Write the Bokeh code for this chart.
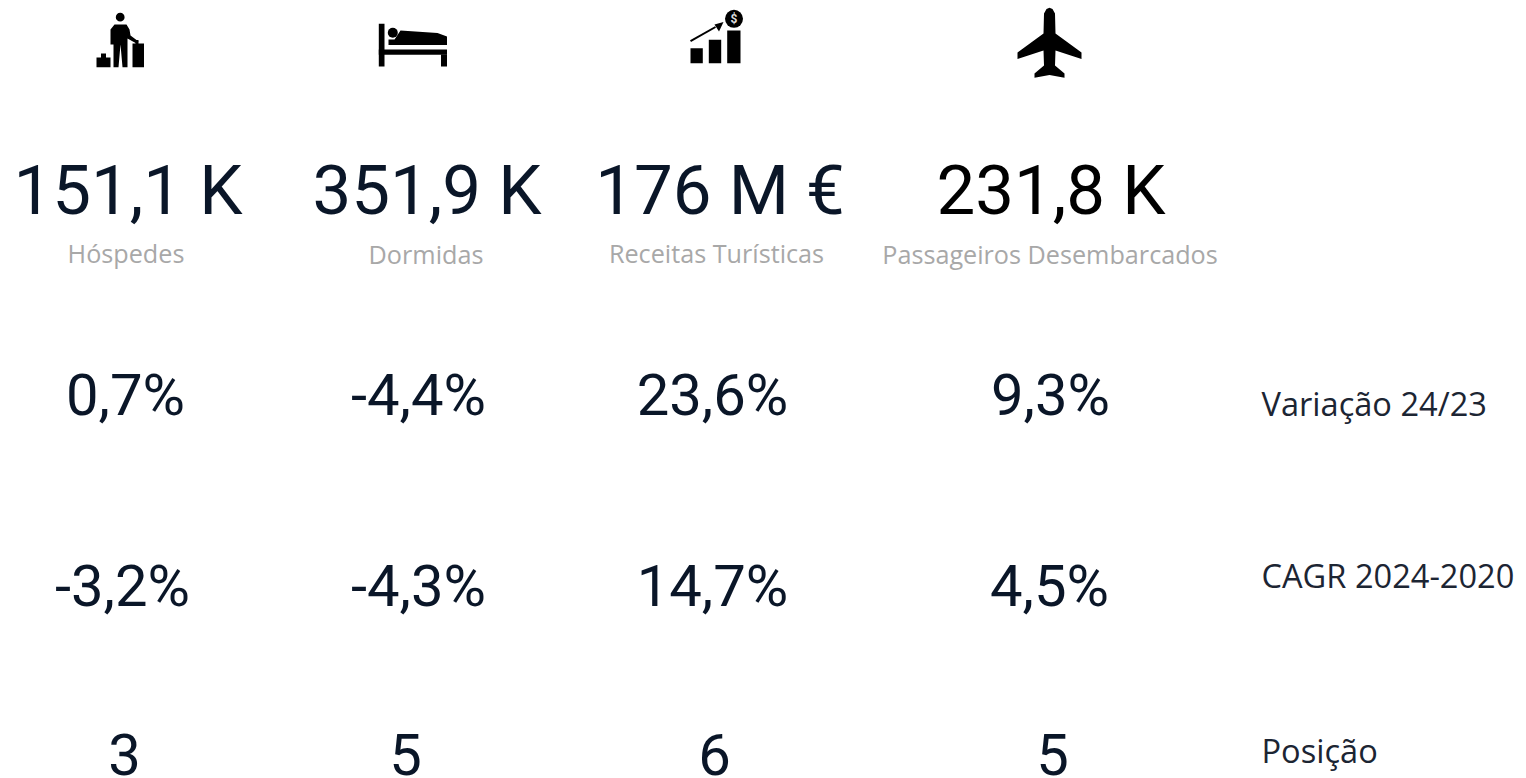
from bokeh.plotting import figure
from bokeh.models import Range1d
from bokeh.core.properties import value
from bokeh.embed import file_html
from bokeh.resources import INLINE

metrics = ["Hóspedes", "Dormidas", "Receitas Turísticas", "Passageiros Desembarcados"]
totals = ["151,1 K", "351,9 K", "176 M €", "231,8 K"]
variacao = ["0,7%", "-4,4%", "23,6%", "9,3%"]
cagr = ["-3,2%", "-4,3%", "14,7%", "4,5%"]
posicao = ["3", "5", "6", "5"]
row_labels = ["Variação 24/23", "CAGR 2024-2020", "Posição"]

NAVY = "#0a1628"
p = figure(width=1526, height=778, output_backend="svg", toolbar_location=None,
           x_range=Range1d(0, 1526), y_range=Range1d(778, 0), min_border=0,
           outline_line_color=None, x_axis_location=None, y_axis_location=None)
p.grid.visible = False


def T(x, y, s, size, color, font, align="center", style="normal"):
    p.text([x], [y], text=[s], text_font=value(font), text_font_size=f"{size}px",
           text_color=color, text_align=align, text_baseline="middle", text_font_style=style)


def box(x0, x1, y0, y1, c="black"):
    p.quad(left=[x0], right=[x1], top=[y0], bottom=[y1], fill_color=c, line_color=None)


def poly(pts, c="black"):
    p.patch([a for a, _ in pts], [b for _, b in pts], fill_color=c, line_color=None)


def dot(x, y, r, c="black"):
    p.circle([x], [y], radius=r, fill_color=c, line_color=None)


# traveller icon
dot(119.7, 16.7, 4.4)
poly([(110, 29), (114, 24), (126, 24), (129, 29), (130, 35), (138, 41), (136, 43), (127, 38),
      (127, 66.7), (122, 66.7), (120, 44), (118, 66.7), (113, 66.7), (113, 44), (110, 44)])
box(132, 143.5, 43, 66.7)
box(135, 138, 39.5, 44)
box(96, 110, 57, 66.7)
box(100.5, 105.5, 53, 58)

# bed icon
box(378.3, 384, 23.3, 66)
dot(392.3, 32.3, 5)
poly([(388, 39), (394, 39), (400, 30), (437, 32.5), (446.5, 36), (446.5, 44.5), (388, 44.5)])
box(378.3, 446.5, 49, 54.3)
box(440.5, 446.5, 54, 66)

# revenue icon
box(690, 702.3, 47.7, 62.7)
box(708.3, 720.7, 39.3, 62.7)
box(726.7, 740, 30, 62.7)
p.line([690, 715], [40.7, 26.5], line_color="black", line_width=2)
poly([(723, 21.5), (714, 24), (718.5, 31)])
dot(733.5, 18.3, 9)
T(733.5, 18.5, "$", 12, "#dddddd", "Roboto", style="bold")

# plane icon
poly([(1049, 7.3), (1052, 8.5), (1054.5, 13), (1055, 33), (1081, 52), (1081, 58.5), (1055, 50),
      (1054.5, 65), (1064, 73), (1064, 77.3), (1049, 74.5), (1034, 77.3), (1034, 73), (1043.5, 65),
      (1043, 50), (1017, 58.5), (1017, 52), (1043, 33), (1043.5, 13), (1046, 8.5)])

for x, s, c in zip([127.5, 426.5, 719.5, 1050.5], totals, [NAVY, NAVY, NAVY, "black"]):
    T(x, 190, s, 69, c, "Roboto")
for x, s, y in zip([125.5, 425.5, 716, 1049.5], metrics, [252, 253, 252, 253]):
    T(x, y, s, 25.2, "#a8a8a8", "Open Sans")
for x, s in zip([125, 418, 712, 1050], variacao):
    T(x, 394, s, 58, NAVY, "Roboto")
for x, s in zip([122, 418, 712, 1049], cagr):
    T(x, 585, s, 58, NAVY, "Roboto")
for x, s in zip([124, 405, 714, 1052], posicao):
    T(x, 754, s, 58, NAVY, "Roboto")
for y, s in zip([403, 575, 750], row_labels):
    T(1261, y, s, 32.6, "#1c2533", "Open Sans", "left")

open("out.html", "w").write(file_html(p, INLINE))
